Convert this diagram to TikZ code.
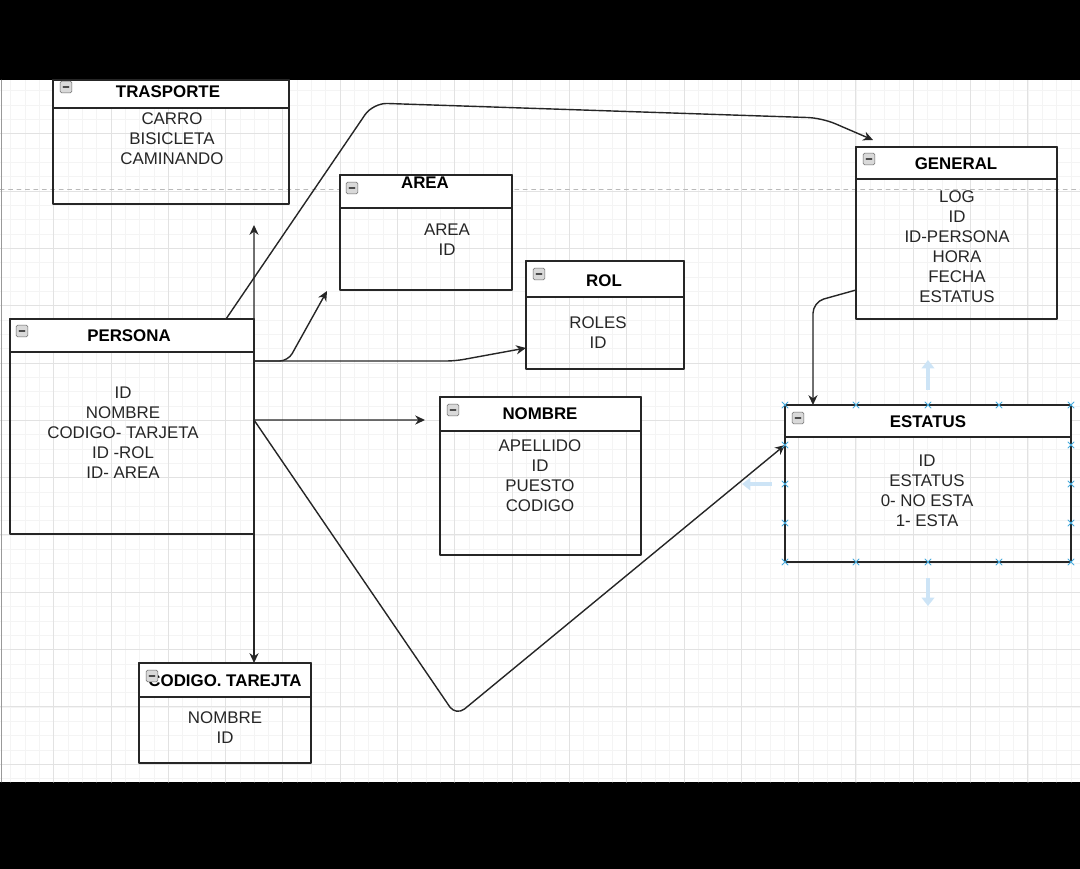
\documentclass[tikz,border=0pt]{standalone}
\usepackage{fontspec}
\setmainfont{Liberation Sans}
\usetikzlibrary{arrows.meta}
\definecolor{gmin}{RGB}{244,244,244}
\definecolor{gmaj}{RGB}{226,226,226}
\definecolor{hov}{RGB}{205,228,246}
\definecolor{hnd}{RGB}{70,170,220}

\begin{document}
\begin{tikzpicture}[x=0.025cm, y=-0.025cm, font=\fontsize{12}{14.2}\selectfont, line join=round, line cap=round, >={Stealth[length=7pt,width=6.5pt]},
  box/.style={draw=black!85, line width=1pt, inner sep=0pt, outer sep=0pt},
  head/.style={box, fill=white, anchor=north},
  ttl/.style={font=\fontsize{12}{14.2}\selectfont\bfseries, inner sep=0pt},
  rows/.style={align=center, inner sep=0pt, text=black!85},
  tog/.style={draw=gray!80!black, fill=gray!30, rounded corners=1pt, minimum size=0.29cm, inner sep=0pt,
    path picture={\draw[black!70, line width=0.9pt] ([xshift=-2pt]path picture bounding box.center) -- ([xshift=2pt]path picture bounding box.center);}},
  link/.style={draw=black!85, line width=1pt, ->},
  handle/.style={draw=hnd, line width=0.7pt},
  hover/.style={draw=hov, line width=3.5pt, line cap=butt, -{Triangle[length=6pt,width=9pt]}}]
\useasboundingbox (0,0) rectangle (1080,869);
\fill[black] (0,0) rectangle (1080,80);
\fill[black] (0,782) rectangle (1080,869);
% grid
\begin{scope}
\clip (0,80) rectangle (1080,782);
\foreach \i in {0,...,75} \draw[gmin] ({10.5+14.33*\i},80) -- ++(0,702);
\foreach \i in {0,...,48} \draw[gmin] (0,{90.6+14.33*\i}) -- ++(1080,0);
\foreach \i in {0,...,18} \draw[gmaj] ({53.5+57.3*\i},80) -- ++(0,702);
\foreach \i in {0,...,12} \draw[gmaj] (0,{76.3+57.3*\i}) -- ++(1080,0);
\draw[gray!55, dash pattern=on 3pt off 3pt] (0,189) -- (1080,189);
\end{scope}
\draw[gray!80] (1,80) -- (1,782);

% tables
\node[box, minimum width=5.9cm, minimum height=3.1cm] (trasporte) at (171,142) {};
\node[head, minimum width=5.9cm, minimum height=0.7cm] (trasporteH) at (trasporte.north) {};
\node[tog] (trasporteT) at (66,87) {};
\node[ttl] (trasporteN) at (168,92) {TRASPORTE};
\node[rows] (trasporteR) at (172,139) {CARRO\\BISICLETA\\CAMINANDO};

\node[box, minimum width=4.3cm, minimum height=2.875cm] (area) at (426,232.5) {};
\node[head, minimum width=4.3cm, minimum height=0.825cm] (areaH) at (area.north) {};
\node[tog] (areaT) at (352,188) {};
\node[ttl] (areaN) at (425,183) {AREA};
\node[rows] (areaR) at (447,240) {AREA\\ID};

\node[box, minimum width=3.95cm, minimum height=2.7cm] (rol) at (605,315) {};
\node[head, minimum width=3.95cm, minimum height=0.9cm] (rolH) at (rol.north) {};
\node[tog] (rolT) at (539,274) {};
\node[ttl] (rolN) at (604,281) {ROL};
\node[rows] (rolR) at (598,333) {ROLES\\ID};

\node[box, minimum width=6.1cm, minimum height=5.375cm] (persona) at (132,426.5) {};
\node[head, minimum width=6.1cm, minimum height=0.825cm] (personaH) at (persona.north) {};
\node[tog] (personaT) at (22,331) {};
\node[ttl] (personaN) at (129,336) {PERSONA};
\node[rows] (personaR) at (123,433) {ID\\NOMBRE\\CODIGO- TARJETA\\ID -ROL\\ID- AREA};

\node[box, minimum width=5.025cm, minimum height=3.95cm] (nombre) at (540.5,476) {};
\node[head, minimum width=5.025cm, minimum height=0.85cm] (nombreH) at (nombre.north) {};
\node[tog] (nombreT) at (453,410) {};
\node[ttl] (nombreN) at (540,414) {NOMBRE};
\node[rows] (nombreR) at (540,476) {APELLIDO\\ID\\PUESTO\\CODIGO};

\node[box, minimum width=5.025cm, minimum height=4.3cm] (general) at (956.5,233) {};
\node[head, minimum width=5.025cm, minimum height=0.8cm] (generalH) at (general.north) {};
\node[tog] (generalT) at (869,159) {};
\node[ttl] (generalN) at (956,164) {GENERAL};
\node[rows] (generalR) at (957,247) {LOG\\ID\\ID-PERSONA\\HORA\\FECHA\\ESTATUS};

\node[box, minimum width=7.15cm, minimum height=3.925cm] (estatus) at (928,483.5) {};
\node[head, minimum width=7.15cm, minimum height=0.8cm] (estatusH) at (estatus.north) {};
\node[tog] (estatusT) at (798,418) {};
\node[ttl] (estatusN) at (928,422) {ESTATUS};
\node[rows] (estatusR) at (927,491) {ID\\ESTATUS\\0- NO ESTA\\1- ESTA};

\node[box, minimum width=4.3cm, minimum height=2.5cm] (codigo) at (225,713) {};
\node[head, minimum width=4.3cm, minimum height=0.85cm] (codigoH) at (codigo.north) {};
\node[ttl] (codigoN) at (225,681) {CODIGO. TAREJTA};
\node[tog] (codigoT) at (152,676) {};
\node[rows] (codigoR) at (225,728) {NOMBRE\\ID};

% connectors
\coordinate (trasA) at (254,225);
\coordinate (areaA) at (327,291);
\coordinate (nomA) at (425,420);
\coordinate (genA) at (873,140);
\coordinate (pr1) at ([yshift=-1.05cm]persona.north east);
\coordinate (pr2) at ([yshift=-2.525cm]persona.north east);
\draw[link] (persona.north east) -- (trasA);
\draw[link] (persona.south east) -- (persona.south east |- codigo.north);
\draw[link, rounded corners=6pt] (pr1) -- ++(34,0) -- (areaA);
\draw[link, rounded corners=6pt] (pr1) -- (455,361) -- ([yshift=-0.825cm]rol.west);
\draw[link] (pr2) -- (nomA);
\draw[link, rounded corners=8pt] (pr2) -- (456,716) -- ([yshift=-1cm]estatus.north west);
\draw[link, rounded corners=10pt] ([xshift=-0.7cm]persona.north east) -- (373,103) -- (822,118) -- (genA);
\draw[link, rounded corners=8pt] ([yshift=-1.425cm]general.west) -- (813,302) -- ([xshift=0.7cm]estatus.north west);

% selection of estatus
\draw[hover] (928,390) -- (928,360);
\draw[hover] (928,578) -- (928,606);
\draw[hover] (772,484) -- (742,484);
\foreach \hx/\hy in {785/405,856/405,928/405,999/405,1071/405,785/562,856/562,928/562,999/562,1071/562,785/445,785/484,785/523,1071/445,1071/484,1071/523}
  \draw[handle] (\hx,\hy) +(-3,-3) -- +(3,3) +(-3,3) -- +(3,-3);
\end{tikzpicture}
\end{document}
